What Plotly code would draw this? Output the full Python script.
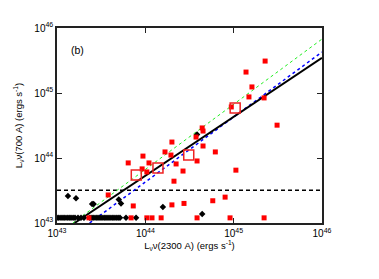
import plotly.graph_objects as go

# Red filled squares
red_x = [2.27e45, 1.38e45, 1.61e45, 1.49e45, 2.21e45, 9.4e44, 3.1e45, 4.4e44, 4.5e44, 3.75e44,
         4.5e44, 6.2e44, 2.0e44, 1.67e44, 1.95e44, 9.4e43, 1.10e44, 6.4e43, 3.85e44, 2.23e44,
         9.2e43, 1.04e44, 2.67e44, 2.11e44, 1.06e45, 3.8e43, 7.3e43, 2.0e44, 2.74e44, 5.8e44,
         8.0e44, 2.3e43, 6.9e43, 1.04e44, 1.19e44, 1.51e44, 3.85e44, 9.1e44, 2.21e45]
red_y = [3.1e45, 2.1e45, 1.24e45, 8.7e44, 8.4e44, 6.1e44, 3.2e44, 2.9e44, 2.6e44, 2.1e44,
         1.53e44, 1.24e44, 1.76e44, 1.24e44, 1.11e44, 1.07e44, 8.4e43, 8.4e43, 9.0e43, 8.1e43,
         6.8e43, 6.1e43, 6.3e43, 4.4e43, 6.5e43, 2.7e43, 1.83e43, 1.9e43, 2.0e43, 2.2e43,
         2.5e43, 1.2e43, 1.2e43, 1.2e43, 1.2e43, 1.2e43, 1.2e43, 1.2e43, 1.2e43]

# Open squares (binned averages)
bin_x = [7.9e43, 1.39e44, 3.1e44, 1.04e45]
bin_y = [5.5e43, 7.0e43, 1.11e44, 5.9e44]

# Black diamonds
blk_x = [1.33e43, 1.64e43, 2.5e43, 2.6e43, 5.0e43, 5.3e43, 1.58e44, 4.4e44, 3.85e44,
         1.00e43, 1.05e43, 1.11e43, 1.17e43, 1.23e43, 1.30e43, 1.37e43, 1.44e43, 1.52e43,
         1.60e43, 1.73e43, 1.87e43, 2.02e43, 2.36e43, 2.49e43, 2.62e43, 2.77e43, 2.91e43,
         3.07e43, 3.23e43, 3.41e43, 3.59e43, 3.78e43, 3.98e43, 4.20e43, 4.42e43, 4.66e43,
         4.91e43, 5.17e43, 6.04e43, 7.85e43]
blk_y = [2.6e43, 2.4e43, 1.96e43, 1.96e43, 2.3e43, 2.0e43, 1.76e43, 1.37e43, 2.3e44] + [1.2e43] * 31

# Fit lines (endpoints)
black_fit_x = [1.58e43, 1e46]
black_fit_y = [1e43, 3.47e45]
green_fit_x = [1.51e43, 1e46]
green_fit_y = [1e43, 6.76e45]
blue_fit_x = [2.34e43, 1e46]
blue_fit_y = [1e43, 4.27e45]
limit_x = [1e43, 1e46]
limit_y = [3.2e43, 3.2e43]

tick_vals = [1e43, 1e44, 1e45, 1e46]
tick_text = ["10<sup>43</sup>", "10<sup>44</sup>", "10<sup>45</sup>", "10<sup>46</sup>"]

fig = go.Figure()
fig.add_trace(go.Scatter(x=limit_x, y=limit_y, mode="lines",
                         line=dict(color="black", width=1.5, dash="4px,3px")))
fig.add_trace(go.Scatter(x=green_fit_x, y=green_fit_y, mode="lines",
                         line=dict(color="#22ee22", width=1, dash="dot")))
fig.add_trace(go.Scatter(x=blue_fit_x, y=blue_fit_y, mode="lines",
                         line=dict(color="#0000ff", width=1.5, dash="3px,3px")))
fig.add_trace(go.Scatter(x=black_fit_x, y=black_fit_y, mode="lines",
                         line=dict(color="black", width=2)))
fig.add_trace(go.Scatter(x=blk_x, y=blk_y, mode="markers",
                         marker=dict(symbol="diamond", size=5, color="black")))
fig.add_trace(go.Scatter(x=red_x, y=red_y, mode="markers",
                         marker=dict(symbol="square", size=5, color="#ff0000")))
fig.add_trace(go.Scatter(x=bin_x, y=bin_y, mode="markers",
                         marker=dict(symbol="square-open", size=10, color="#ee2222",
                                     line=dict(width=1.5))))

axis_common = dict(type="log", showgrid=False, zeroline=False, showline=True,
                   linecolor="#222222", linewidth=1.5, mirror="ticks", ticks="inside",
                   ticklen=5, tickwidth=1.2, tickcolor="#222222", automargin=False,
                   tickvals=tick_vals, ticktext=tick_text,
                   tickfont=dict(family="Liberation Sans", size=10, color="black"))

fig.update_layout(
    width=379, height=279,
    margin=dict(l=57, r=57, t=28, b=56, autoexpand=False),
    paper_bgcolor="white", plot_bgcolor="white",
    showlegend=False,
    font=dict(family="Liberation Sans", size=10, color="black"),
    xaxis=dict(axis_common, range=[43, 46],
               title=dict(text="L<sub>ν</sub>ν(2300 A) (ergs s<sup>-1</sup>)",
                          font=dict(size=9.5), standoff=5)),
    yaxis=dict(axis_common, range=[43, 46],
               title=dict(text="L<sub>ν</sub>ν(700 A) (ergs s<sup>-1</sup>)",
                          font=dict(size=9.5), standoff=10)),
    annotations=[dict(x=0.045, y=0.93, xref="paper", yref="paper", text="(b)",
                      showarrow=False, font=dict(size=10.5, color="black"))],
)

fig.write_html("out.html", config={"displayModeBar": False},
               post_script="document.body.style.margin='0';document.body.style.overflow='hidden';")
